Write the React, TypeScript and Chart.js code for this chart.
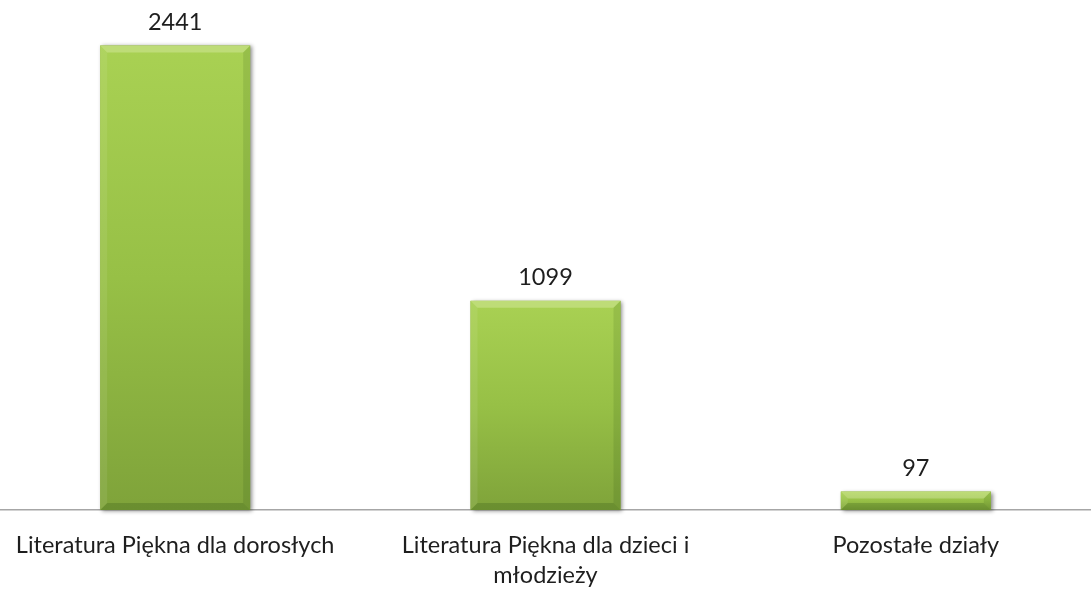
import React, { useEffect, useRef } from "react";
import { Chart, registerables } from "chart.js";
Chart.register(...registerables);

const categories: string[][] = [
  ["Literatura Piękna dla dorosłych"],
  ["Literatura Piękna dla dzieci i", "młodzieży"],
  ["Pozostałe działy"],
];
const values: number[] = [2441, 1099, 97];
const yMax = 2680;

const FONT = "Lato, 'Open Sans', sans-serif";

const shadowPlugin = {
  id: "barShadow",
  beforeDatasetsDraw(chart: any) {
    const ctx = chart.ctx;
    const meta = chart.getDatasetMeta(0);
    ctx.save();
    meta.data.forEach((bar: any) => {
      const p = bar.getProps(["x", "y", "base", "width"], true);
      const l = p.x - p.width / 2;
      ctx.shadowColor = "rgba(0,0,0,0.45)";
      ctx.shadowBlur = 4;
      ctx.shadowOffsetX = 2;
      ctx.shadowOffsetY = 1;
      ctx.fillStyle = "#8aa84a";
      ctx.fillRect(l, p.y, p.width, p.base - p.y);
    });
    ctx.restore();
  },
};

const bevelPlugin = {
  id: "bevel",
  afterDatasetsDraw(chart: any) {
    const ctx = chart.ctx;
    const meta = chart.getDatasetMeta(0);
    ctx.save();
    meta.data.forEach((bar: any, i: number) => {
      const p = bar.getProps(["x", "y", "base", "width"], true);
      const l = p.x - p.width / 2;
      const r = p.x + p.width / 2;
      const t = p.y;
      const b = p.base;
      const h = b - t;
      const bv = Math.min(7, h / 2);
      const poly = (pts: number[][], color: string) => {
        ctx.beginPath();
        ctx.moveTo(pts[0][0], pts[0][1]);
        for (let k = 1; k < pts.length; k++) ctx.lineTo(pts[k][0], pts[k][1]);
        ctx.closePath();
        ctx.fillStyle = color;
        ctx.fill();
      };
      poly([[l, t], [r, t], [r - bv, t + bv], [l + bv, t + bv]], "rgba(255,255,230,0.25)");
      poly([[l, t], [l + bv, t + bv], [l + bv, b - bv], [l, b]], "rgba(255,255,255,0.08)");
      poly([[r, t], [r, b], [r - bv, b - bv], [r - bv, t + bv]], "rgba(0,40,0,0.10)");
      poly([[l, b], [l + bv, b - bv], [r - bv, b - bv], [r, b]], "rgba(0,40,0,0.16)");
      ctx.fillStyle = "#1e1e1e";
      ctx.font = `23.5px ${FONT}`;
      ctx.textAlign = "center";
      ctx.textBaseline = "middle";
      ctx.fillText(String(values[i]), p.x, t - 23);
    });
    ctx.restore();
  },
};

export default function App() {
  const ref = useRef<HTMLCanvasElement | null>(null);
  useEffect(() => {
    if (!ref.current) return;
    const chart = new Chart(ref.current, {
      type: "bar",
      data: {
        labels: categories as any,
        datasets: [
          {
            data: values,
            categoryPercentage: 1,
            barPercentage: 0.405,
            backgroundColor: (c: any) => {
              const ch = c.chart;
              const ys = ch.scales?.y;
              if (!ys || c.parsed == null) return "#9cc548";
              const top = ys.getPixelForValue(c.parsed.y);
              const base = ys.getPixelForValue(0);
              if (!isFinite(top) || !isFinite(base) || base - top < 1) return "#9cc548";
              const g = ch.ctx.createLinearGradient(0, top, 0, base);
              g.addColorStop(0, "#a9d153");
              g.addColorStop(0.5, "#97c046");
              g.addColorStop(1, "#7fa33a");
              return g;
            },
            borderWidth: 0,
          },
        ],
      },
      options: {
        responsive: false,
        animation: false,
        layout: { padding: { left: 0, right: 0, top: 0, bottom: 0 } },
        plugins: { legend: { display: false }, tooltip: { enabled: false } },
        scales: {
          y: { display: false, min: 0, max: yMax },
          x: {
            grid: { display: false, drawTicks: false },
            border: { display: true, color: "#a6a6a6", width: 1.5 },
            ticks: {
              color: "#1e1e1e",
              padding: 20,
              maxRotation: 0,
              autoSkip: false,
              font: { family: FONT, size: 23.5, lineHeight: 30 / 23.5 },
            },
            afterFit: (scale: any) => {
              scale.height = 80;
            },
          },
        },
      },
      plugins: [shadowPlugin, bevelPlugin],
    });
    return () => chart.destroy();
  }, []);
  return (
    <div style={{ position: "fixed", left: 0, top: 0, width: 1091, height: 590, overflow: "hidden", background: "#fff" }}>
      <canvas ref={ref} width={1111} height={590} style={{ position: "absolute", left: -10, top: 0, width: 1111, height: 590 }} />
    </div>
  );
}
